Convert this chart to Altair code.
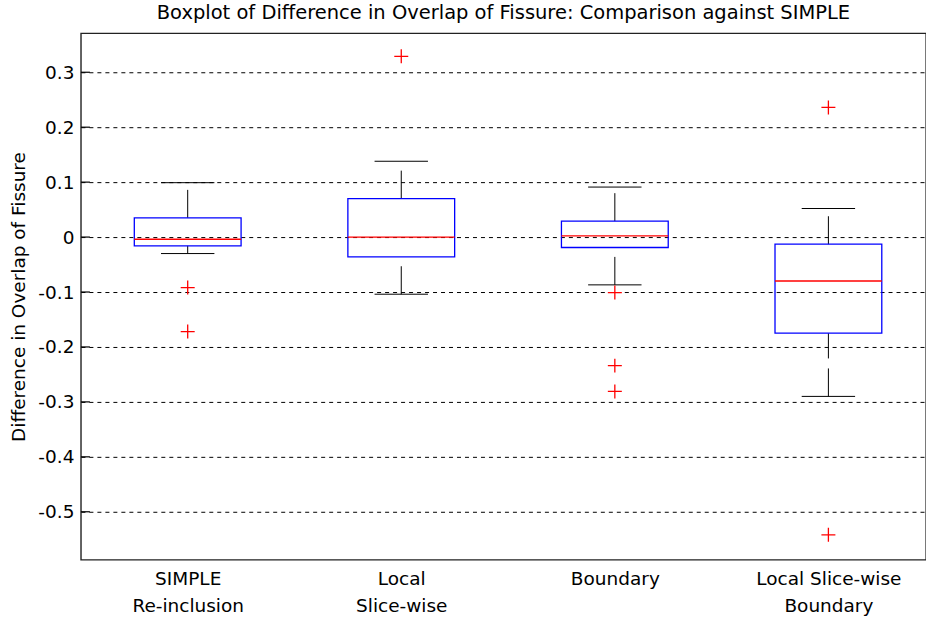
import json
import altair as alt
import pandas as pd

# ---- data ----
categories = [["SIMPLE", "Re-inclusion"], ["Local", "Slice-wise"], ["Boundary"], ["Local Slice-wise", "Boundary"]]
positions = [1, 2, 3, 4]
lower_whisker = [-0.030, -0.104, -0.087, -0.290]
q1 = [-0.016, -0.036, -0.019, -0.175]
median = [-0.004, 0.000, 0.002, -0.080]
q3 = [0.035, 0.070, 0.029, -0.013]
upper_whisker = [0.099, 0.138, 0.091, 0.052]
outlier_group = [1, 1, 2, 3, 3, 3, 4, 4]
outlier_value = [-0.092, -0.172, 0.329, -0.101, -0.234, -0.281, 0.236, -0.542]
y_ticks = [-0.5, -0.4, -0.3, -0.2, -0.1, 0.0, 0.1, 0.2, 0.3]

box_df = pd.DataFrame(dict(pos=positions, lw=lower_whisker, q1=q1, med=median, q3=q3, uw=upper_whisker))
out_df = pd.DataFrame(dict(pos=outlier_group, value=outlier_value))
tick_df = pd.DataFrame(dict(t=y_ticks))

FONT = "DejaVu Sans"
FS = 18.5
xscale = alt.Scale(domain=[0.5, 4.457], nice=False, zero=False)
yscale = alt.Scale(domain=[-0.5873, 0.3709], nice=False, zero=False)

label_expr = json.dumps(categories) + "[datum.value - 1]"
x_axis = alt.Axis(values=positions, labelExpr=label_expr, title=None, grid=False, ticks=False,
                  domain=False, labelFont=FONT, labelFontSize=FS, labelColor="#000",
                  labelLineHeight=27, labelBaseline="top", labelPadding=10, labelAlign="center")
y_axis = alt.Axis(values=y_ticks, labelExpr="toString(round(datum.value*10)/10)",
                  title="Difference in Overlap of Fissure", titleFont=FONT, titleFontSize=FS,
                  titleFontWeight="normal", titleColor="#000", titlePadding=9,
                  labelFont=FONT, labelFontSize=FS, labelColor="#000", labelPadding=7,
                  ticks=False, domain=False, grid=True, gridColor="#000", gridDash=[4, 4],
                  gridWidth=1, gridOpacity=1)

base = alt.Chart(box_df).transform_calculate(
    x0="datum.pos - 0.25", x1="datum.pos + 0.25",
    c0="datum.pos - 0.125", c1="datum.pos + 0.125")

X = lambda f: alt.X(f, type="quantitative", scale=xscale, axis=x_axis)
Y = lambda f: alt.Y(f, type="quantitative", scale=yscale, axis=y_axis)

whisk_up = base.mark_rule(color="#000", strokeWidth=1, strokeDash=[28, 10]).encode(
    x=X("pos"), y=Y("q3"), y2="uw")
whisk_lo = base.mark_rule(color="#000", strokeWidth=1, strokeDash=[28, 10]).encode(
    x=X("pos"), y=Y("lw"), y2="q1")
cap_up = base.mark_rule(color="#000", strokeWidth=1).encode(x=X("c0"), x2="c1", y=Y("uw"))
cap_lo = base.mark_rule(color="#000", strokeWidth=1).encode(x=X("c0"), x2="c1", y=Y("lw"))
boxes = base.mark_rect(fillOpacity=0, stroke="#0000ff", strokeWidth=1.3).encode(
    x=X("x0"), x2="x1", y=Y("q1"), y2="q3")
medians = base.mark_rule(color="#ff0000", strokeWidth=1.3).encode(x=X("x0"), x2="x1", y=Y("med"))
outliers = alt.Chart(out_df).mark_point(
    shape="M-1,0L1,0M0,-1L0,1", filled=False, color="#ff0000", strokeWidth=1.3,
    size=196, opacity=1).encode(x=X("pos"), y=Y("value"))
yticks = alt.Chart(tick_df).mark_rule(color="#000", strokeWidth=1.2).encode(
    x=alt.value(0), x2=alt.value(9), y=Y("t"))

chart = alt.layer(yticks, whisk_up, whisk_lo, cap_up, cap_lo, boxes, medians, outliers).properties(
    width=846, height=527,
    padding={"left": 81, "top": 33, "right": 0, "bottom": 59},
    autosize=alt.AutoSizeParams(type="none"),
    title="Boxplot of Difference in Overlap of Fissure: Comparison against SIMPLE",
).configure(
    background="#ffffff",
    view=alt.ViewConfig(stroke="#222", strokeWidth=1.4),
    title=alt.TitleConfig(font=FONT, fontSize=19.5, fontWeight="normal", color="#000",
                          anchor="middle", offset=10),
)

chart.save("out.html", embed_options={"renderer": "svg", "actions": False})
